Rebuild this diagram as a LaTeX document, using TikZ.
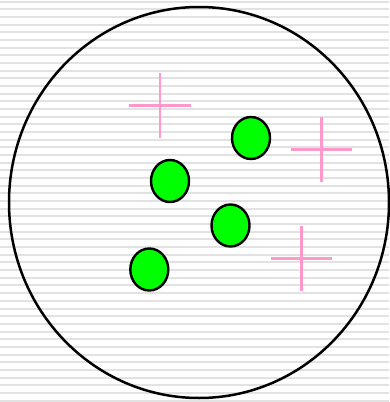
\documentclass[tikz,border=0pt]{standalone}
\usetikzlibrary{shapes.geometric}
\definecolor{stripe}{HTML}{E2E2E2}
\definecolor{dotgreen}{HTML}{00FF00}
\definecolor{crosspink}{HTML}{FF99CC}
\tikzset{
  stripeline/.style={draw=stripe,line width=2pt},
  dotnode/.style={ellipse,draw=black,fill=dotgreen,line width=2.4pt,minimum width=38pt,minimum height=42pt,inner sep=0pt},
  crossline/.style={draw=crosspink,line width=2.5pt},
  outline/.style={draw=black,line width=2.5pt}
}
\begin{document}
\begin{tikzpicture}[x=1pt,y=-1pt]
\useasboundingbox (0,0) rectangle (389,402);
\fill[white] (0,0) rectangle (389,402);
\foreach \i in {0,...,52}{
  \draw[stripeline] (0,{1.7+7.67*\i}) -- (389,{1.7+7.67*\i});
}
\draw[outline] (199,202.5) ellipse [x radius=190, y radius=195.5];
% crosses
\coordinate (c1t) at (160,72.7); \coordinate (c1b) at (160,138.3);
\coordinate (c1l) at (129.3,105.7); \coordinate (c1r) at (190.7,105.7);
\draw[crossline] (c1t) -- (c1b); \draw[crossline] (c1l) -- (c1r);
\coordinate (c2t) at (321.7,116.7); \coordinate (c2b) at (321.7,182.3);
\coordinate (c2l) at (291,149.3); \coordinate (c2r) at (352.3,149.3);
\draw[crossline] (c2t) -- (c2b); \draw[crossline] (c2l) -- (c2r);
\coordinate (c3t) at (301.7,225.7); \coordinate (c3b) at (301.7,291);
\coordinate (c3l) at (271,258.3); \coordinate (c3r) at (331.7,258.3);
\draw[crossline] (c3t) -- (c3b); \draw[crossline] (c3l) -- (c3r);
% dots
\node[dotnode] (d1) at (170,181) {};
\node[dotnode] (d2) at (251,138) {};
\node[dotnode] (d3) at (149.3,269.5) {};
\node[dotnode] (d4) at (230.5,225.5) {};
\end{tikzpicture}
\end{document}
